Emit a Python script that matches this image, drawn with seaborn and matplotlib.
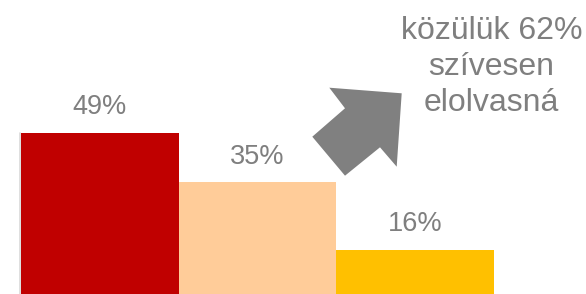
import matplotlib
matplotlib.use("Agg")
import matplotlib.pyplot as plt
import seaborn as sns
import pandas as pd
from matplotlib.patches import Polygon

# data
categories = ["A", "B", "C"]
values = [49, 35, 16]
labels = ["49%", "35%", "16%"]
colors = ["#C00000", "#FFCC99", "#FFC000"]
note = "közülük 62%\nszívesen\nelolvasná"

sns.set_style("white")
plt.rcParams["font.family"] = ["Liberation Sans", "DejaVu Sans"]

df = pd.DataFrame({"cat": categories, "val": values})

fig = plt.figure(figsize=(5.86, 2.94), dpi=100)
# axes: baseline sits a bit below the bottom edge of the figure
ax = fig.add_axes([21 / 586, -12.5 / 294, 473 / 586, 212.7 / 294])
sns.barplot(data=df, x="cat", y="val", hue="cat", palette=colors,
            width=1.0, legend=False, ax=ax, saturation=1, linewidth=0)
ax.set_xlim(-0.5, 2.5)
ax.set_ylim(0, 60)
ax.axis("off")

for i, (v, lab) in enumerate(zip(values, labels)):
    ax.text(i, v + 7.2, lab, ha="center", va="center", fontsize=19.5, color="#7F7F7F")

# faint edge on the left of the first bar
fig.add_artist(plt.Line2D([20 / 586, 20 / 586], [0, 161 / 294], color="#D9D9D9", lw=1.2))

# gray arrow (figure pixel coords, y from top)
pts = [(401.7, 93.3), (396.7, 166.7), (380, 147.3), (345, 175.7),
       (312.3, 136.7), (345, 108.3), (329.3, 87.7)]
pts = [(x / 586, 1 - y / 294) for x, y in pts]
fig.add_artist(Polygon(pts, closed=True, facecolor="#808080", edgecolor="none",
                       transform=fig.transFigure))

fig.text(491.5 / 586, 1 - 67 / 294, note, ha="center", va="center",
         fontsize=23, color="#7F7F7F", linespacing=1.25)

fig.savefig("out.png", dpi=100)
